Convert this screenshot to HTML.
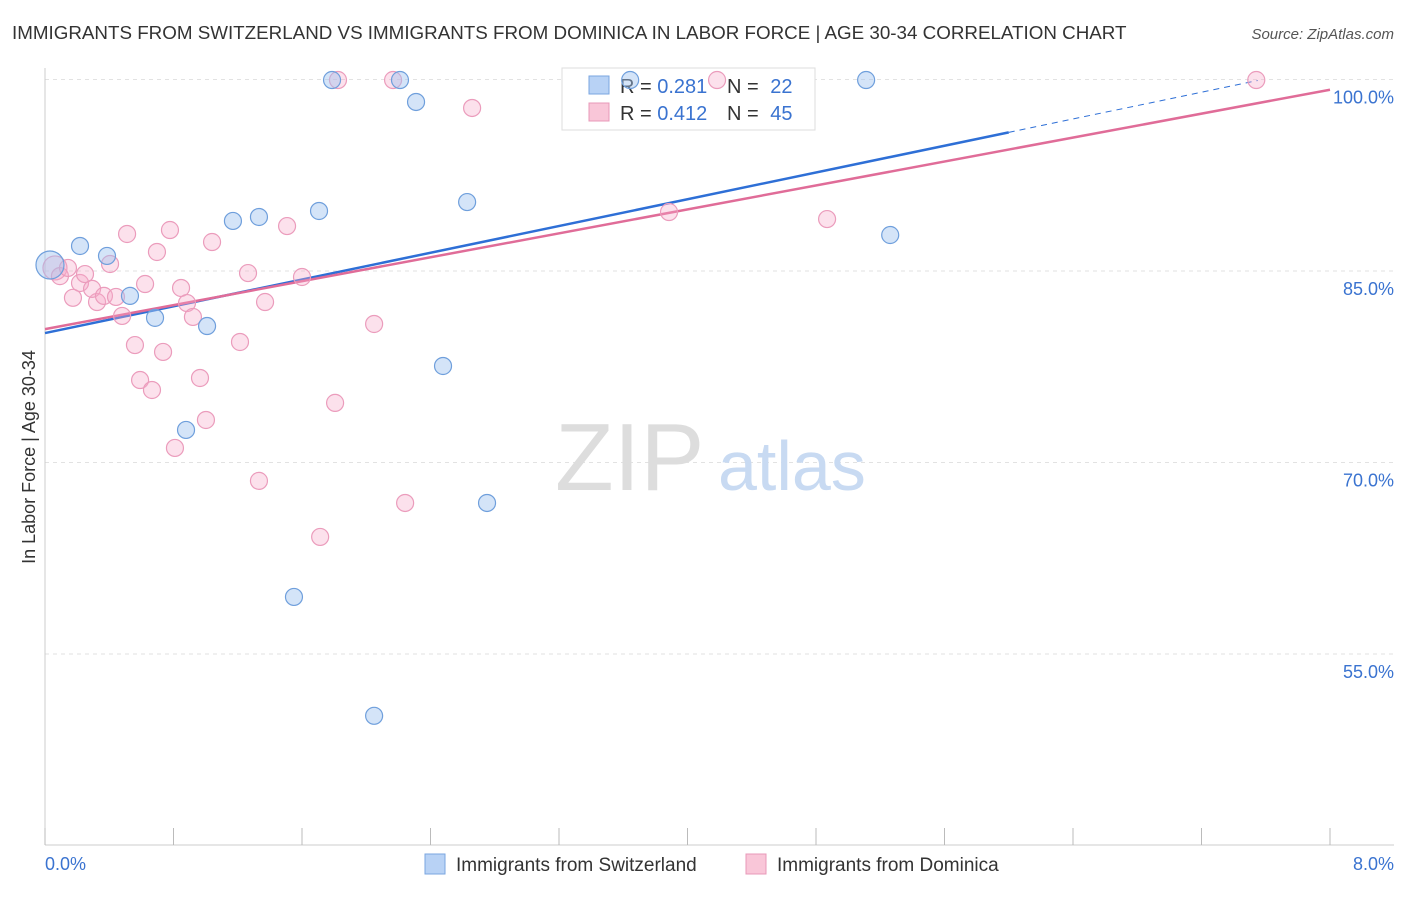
<!DOCTYPE html>
<html><head><meta charset="utf-8">
<style>
body{margin:0;background:#fff;font-family:"Liberation Sans",sans-serif;}
svg text{font-family:"Liberation Sans",sans-serif;}
</style></head>
<body>
<svg id="chart" width="1406" height="892" viewBox="0 0 1406 892" xmlns="http://www.w3.org/2000/svg">
<text x="12" y="39" font-size="18.8" fill="#333">IMMIGRANTS FROM SWITZERLAND VS IMMIGRANTS FROM DOMINICA IN LABOR FORCE | AGE 30-34 CORRELATION CHART</text>
<text x="1394" y="39" font-size="15" fill="#555" text-anchor="end" font-style="italic">Source: ZipAtlas.com</text>
<text x="35" y="457" font-size="18" fill="#333" text-anchor="middle" transform="rotate(-90 35 457)">In Labor Force | Age 30-34</text>
<g id="grid"></g>
<g id="axes"></g>
<text x="555" y="490" font-size="96" fill="#ddd" font-family="Liberation Serif">ZIP</text>
<text x="718" y="490" font-size="70" fill="#c8daf2">atlas</text>
<g>
<rect x="562" y="68" width="253" height="62" fill="#fff" stroke="#ddd"/>
<rect x="589" y="76" width="20" height="18" fill="#b8d2f5" stroke="#7aa6e0"/>
<rect x="589" y="103" width="20" height="18" fill="#f9c6d8" stroke="#e898b8"/>
<text x="620" y="93" font-size="20" fill="#333">R = <tspan fill="#3a73d0">0.281</tspan></text>
<text x="727" y="93" font-size="20" fill="#333">N = <tspan fill="#3a73d0" dx="6">22</tspan></text>
<text x="620" y="120" font-size="20" fill="#333">R = <tspan fill="#3a73d0">0.412</tspan></text>
<text x="727" y="120" font-size="20" fill="#333">N = <tspan fill="#3a73d0" dx="6">45</tspan></text>
</g>
<g id="lines"></g>
<g id="points"></g>
<g>
<rect x="425" y="854" width="20" height="20" fill="#b8d2f5" stroke="#7aa6e0"/>
<text x="456" y="871" font-size="19" fill="#333">Immigrants from Switzerland</text>
<rect x="746" y="854" width="20" height="20" fill="#f9c6d8" stroke="#e898b8"/>
<text x="777" y="871" font-size="19" fill="#333">Immigrants from Dominica</text>
</g>
</svg>
<script>
const yTicks=[55,70,85,100];
const yTickLabels=["55.0%","70.0%","85.0%","100.0%"];
const xTicks=[0,0.8,1.6,2.4,3.2,4,4.8,5.6,6.4,7.2,8];
const xEndLabels=["0.0%","8.0%"];
const swissX=[0.031,0.218,0.386,0.529,0.685,0.878,1.009,1.170,1.332,1.550,1.706,1.787,2.210,2.310,2.049,2.478,2.628,2.752,3.643,5.112,5.262];
const swissY=[85.47,86.96,86.18,83.05,81.33,72.55,80.69,88.92,89.23,59.47,89.70,99.96,99.96,98.24,50.16,77.56,90.40,66.83,99.96,99.96,87.82];
const domX=[0.062,0.093,0.143,0.174,0.218,0.249,0.324,0.293,0.367,0.405,0.442,0.480,0.511,0.560,0.592,0.623,0.666,0.697,0.735,0.778,0.809,0.847,0.884,0.921,0.965,1.002,1.040,1.214,1.264,1.332,1.370,1.507,1.600,1.713,1.806,1.824,2.049,2.167,2.242,2.659,3.885,4.184,4.869,7.541];
const domY=[85.24,84.6,85.24,82.9,84.06,84.76,82.57,83.6,83.05,85.55,82.97,81.48,87.9,79.2,76.46,83.98,75.68,86.49,78.66,88.21,71.14,83.67,82.49,81.4,76.62,73.33,87.27,79.44,84.84,68.56,82.57,88.52,84.53,64.17,74.67,99.96,80.85,99.96,66.83,97.77,89.62,99.96,89.07,99.96];
const swissTrend=[80.14,101.1];
const domTrend=[80.45,99.2];
const X=v=>45+v/8*1285;
const Y=v=>79.5+(100-v)*191.5/15;
const NS="http://www.w3.org/2000/svg";
function mk(t,a,p){const e=document.createElementNS(NS,t);for(const k in a)e.setAttribute(k,a[k]);p.appendChild(e);return e;}
const grid=document.getElementById('grid'),axes=document.getElementById('axes');
yTicks.forEach((t,i)=>{
 const l=mk('line',{x1:45,x2:1394,y1:Y(t),y2:Y(t),stroke:'#e2e2e2','stroke-dasharray':'4,4'},grid);
 
 
 const tx=mk('text',{x:1394,y:Y(t)+24,'font-size':18,fill:'#3a73d0','text-anchor':'end'},axes);
 tx.textContent=yTickLabels[i];
 
 
});
const ax=mk('line',{x1:45,x2:1394,y1:845,y2:845,stroke:'#ccc'},axes);


const ay=mk('line',{x1:45,x2:45,y1:68,y2:845,stroke:'#ccc'},axes);


xTicks.forEach(t=>{const l=mk('line',{x1:X(t),x2:X(t),y1:828,y2:845,stroke:'#bbb'},axes);
 
 });
[[0,'start'],[8,'end']].forEach((p,i)=>{const tx=mk('text',{x:i?1394:45,y:870,'font-size':18,fill:'#3a73d0','text-anchor':p[1]},axes);
 tx.textContent=xEndLabels[i];
 
 });
const lines=document.getElementById('lines');
const sx=x=>swissTrend[0]+(swissTrend[1]-swissTrend[0])*x/8;
let bl=mk('line',{x1:X(0),y1:Y(sx(0)),x2:X(6),y2:Y(sx(6)),stroke:'#2e6fd6','stroke-width':2.5},lines);


let bd=mk('line',{x1:X(6),y1:Y(sx(6)),x2:X(7.55),y2:Y(sx(7.55)),stroke:'#2e6fd6','stroke-width':1,'stroke-dasharray':'6,5'},lines);


let pl=mk('line',{x1:X(0),y1:Y(domTrend[0]),x2:X(8),y2:Y(domTrend[1]),stroke:'#e06c98','stroke-width':2.5},lines);


const pts=document.getElementById('points');
domX.forEach((x,i)=>{const c=mk('circle',{cx:X(x),cy:Y(domY[i]),r:i==0?12:8.5,fill:'rgba(246,170,200,0.35)',stroke:'#eb9cbc','stroke-width':1.2},pts);
 
 });
swissX.forEach((x,i)=>{const c=mk('circle',{cx:X(x),cy:Y(swissY[i]),r:i==0?14:8.5,fill:'rgba(160,196,240,0.45)',stroke:'#6f9fdc','stroke-width':1.2},pts);
 
 });
</script>
</body></html>
